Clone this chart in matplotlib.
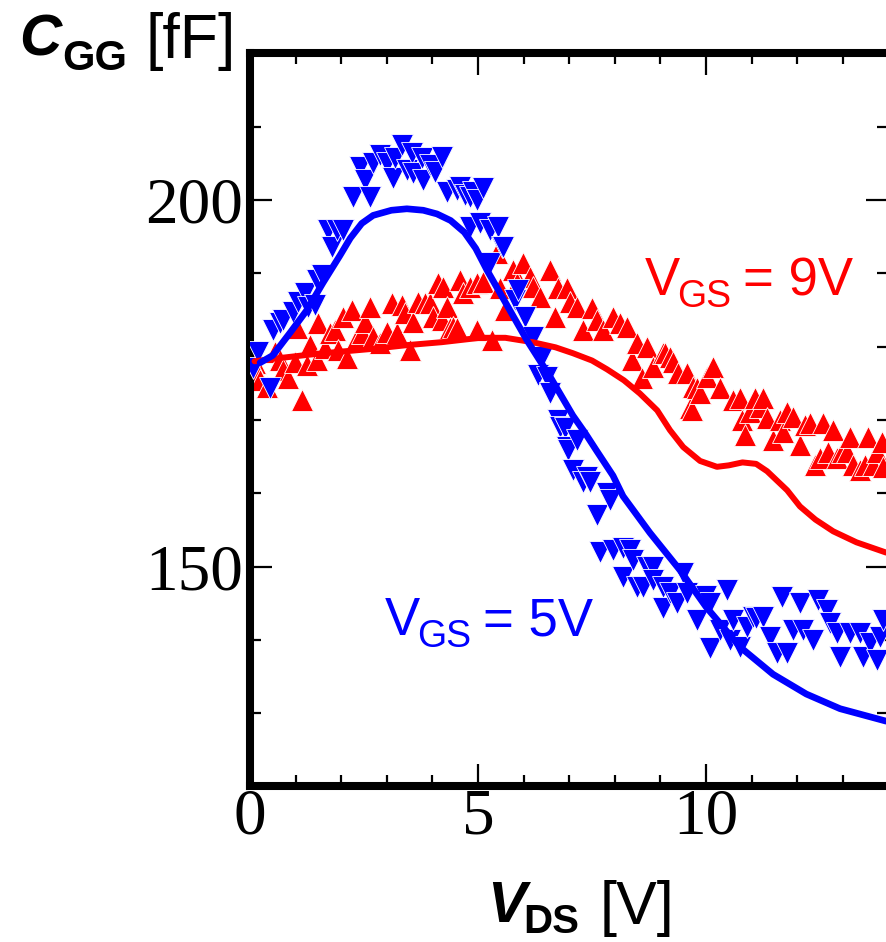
import matplotlib
matplotlib.use("Agg")
import matplotlib.pyplot as plt
from matplotlib.ticker import MultipleLocator, FixedLocator

# ---------------- data ----------------
# measured, V_GS = 5 V (down triangles, blue)
blue_vds = [0.07, 0.18, 0.44, 0.51, 0.66, 0.72, 0.94, 1.05, 1.2, 1.27, 1.43, 1.47, 1.58,
            1.71, 1.8, 1.91, 2.04, 2.26, 2.41, 2.52, 2.63, 2.7, 2.85, 3.0, 3.14, 3.18, 3.33,
            3.44, 3.55, 3.57, 3.77, 3.79, 3.95, 4.06, 4.21, 4.32, 4.54, 4.6, 4.71, 4.82,
            4.82, 4.89, 4.98, 5.04, 5.1, 5.26, 5.26, 5.44, 5.52, 5.55, 5.81, 5.88, 6.03,
            6.2, 6.32, 6.4, 6.51, 6.58, 6.75, 6.8, 6.91, 6.95, 6.97, 7.08, 7.17, 7.3, 7.39,
            7.46, 7.61, 7.68, 7.83, 7.89, 7.96, 8.18, 8.18, 8.33, 8.4, 8.49, 8.62, 8.71,
            8.84, 8.84, 9.06, 9.06, 9.21, 9.36, 9.5, 9.58, 9.8, 10.0, 10.09, 10.09, 10.31,
            10.46, 10.53, 10.59, 10.75, 10.9, 11.03, 11.1, 11.25, 11.4, 11.56, 11.67, 11.78,
            11.91, 12.06, 12.13, 12.35, 12.46, 12.65, 12.72, 12.87, 12.94, 13.16, 13.38,
            13.44, 13.6, 13.75, 13.82, 13.88]
blue_cgg = [177.1, 179.3, 174.4, 182.3, 183.2, 183.6, 184.7, 186.1, 187.3, 185.4, 185.7, 189.1,
            189.8, 195.9, 193.6, 195.9, 195.9, 200.4, 204.5, 202.7, 200.4, 205.0, 206.1, 205.0,
            203.0, 205.7, 207.5, 204.1, 206.4, 203.7, 205.7, 202.7, 204.8, 203.8, 205.9, 201.1,
            201.4, 201.8, 200.7, 200.4, 196.3, 201.1, 200.0, 196.9, 201.6, 195.9, 191.4, 196.3,
            193.6, 193.6, 186.4, 187.7, 184.0, 181.3, 176.1, 178.6, 175.9, 173.7, 170.0, 169.0,
            168.9, 166.3, 165.9, 163.2, 167.3, 161.5, 162.2, 161.5, 157.0, 152.0, 160.0, 159.1,
            152.3, 152.5, 148.6, 152.3, 150.9, 147.2, 147.2, 150.0, 150.0, 148.2, 147.2, 144.3,
            146.4, 145.0, 149.1, 146.4, 142.7, 146.0, 145.0, 138.9, 141.3, 146.8, 140.0, 142.7,
            139.0, 141.7, 143.1, 143.0, 143.1, 140.4, 138.2, 145.8, 138.2, 141.3, 145.0, 141.3,
            140.0, 145.4, 144.1, 142.3, 140.9, 137.7, 140.9, 140.9, 137.7, 139.6, 137.2, 140.4,
            142.7]

# measured, V_GS = 9 V (up triangles, red)
red_vds = [0.11, 0.15, 0.22, 0.37, 0.55, 0.66, 0.72, 0.83, 0.99, 1.03, 1.14, 1.25, 1.32, 1.47,
           1.49, 1.64, 1.75, 1.86, 1.93, 2.04, 2.13, 2.24, 2.35, 2.46, 2.52, 2.63, 2.7, 2.85,
           3.0, 3.11, 3.22, 3.33, 3.4, 3.51, 3.57, 3.68, 3.84, 3.95, 4.01, 4.12, 4.21, 4.23,
           4.32, 4.39, 4.45, 4.54, 4.6, 4.67, 4.82, 4.98, 4.98, 5.11, 5.31, 5.42, 5.48, 5.59,
           5.77, 5.86, 5.99, 6.14, 6.21, 6.36, 6.58, 6.69, 6.75, 6.95, 7.02, 7.17, 7.3, 7.5,
           7.61, 7.74, 7.96, 8.11, 8.27, 8.38, 8.49, 8.6, 8.71, 8.84, 9.06, 9.1, 9.21, 9.28,
           9.39, 9.58, 9.65, 9.69, 9.71, 9.8, 9.87, 10.02, 10.15, 10.31, 10.59, 10.75, 10.79,
           10.86, 10.96, 11.07, 11.18, 11.25, 11.34, 11.47, 11.62, 11.69, 11.78, 11.91, 12.06,
           12.17, 12.28, 12.39, 12.5, 12.57, 12.68, 12.79, 12.87, 12.98, 13.1, 13.16, 13.22,
           13.38, 13.49, 13.55, 13.66, 13.75, 13.86, 13.88]
red_cgg = [177.8, 176.4, 175.4, 174.5, 179.3, 178.2, 176.8, 175.7, 177.9, 182.5, 172.7, 177.5,
           180.2, 178.2, 183.2, 179.8, 181.9, 182.3, 179.5, 184.0, 178.4, 185.0, 181.2, 181.9,
           183.4, 185.4, 181.3, 180.5, 182.0, 185.9, 181.9, 185.7, 184.6, 179.5, 183.4, 186.1,
           185.9, 185.9, 184.0, 188.7, 183.6, 188.1, 185.4, 182.5, 182.7, 182.5, 189.1, 187.3,
           188.1, 182.3, 188.7, 188.8, 180.9, 192.8, 188.0, 185.0, 190.5, 188.7, 191.4, 189.5,
           188.1, 186.8, 190.5, 184.0, 188.0, 188.0, 186.1, 185.4, 182.3, 185.3, 183.6, 182.3,
           184.0, 183.2, 182.7, 178.2, 180.5, 175.7, 180.0, 177.2, 179.1, 179.1, 178.6, 177.9,
           176.4, 176.4, 171.6, 171.4, 174.5, 174.4, 173.7, 175.9, 177.2, 174.4, 172.7, 173.0,
           170.0, 167.9, 171.1, 173.0, 171.8, 173.0, 170.3, 167.3, 170.0, 168.4, 171.1, 170.4,
           166.6, 169.3, 169.6, 163.8, 164.8, 169.6, 165.6, 168.6, 164.8, 165.6, 165.6, 167.7,
           163.8, 163.2, 163.8, 167.7, 163.8, 165.6, 167.0, 163.6]

# simulated, V_GS = 5 V
blue_model_vds = [0.22, 0.5, 0.88, 1.25, 1.6, 1.97, 2.2, 2.45, 2.7, 3.1, 3.44, 3.8, 4.1, 4.4,
                  4.7, 4.95, 5.2, 5.64, 6.07, 6.58, 7.08, 7.35, 7.6, 7.96, 8.18, 8.77, 9.43,
                  10.0, 10.75, 11.47, 12.2, 12.94, 13.95]
blue_model_cgg = [177.8, 178.8, 181.9, 185.0, 188.7, 192.4, 194.8, 196.8, 197.9, 198.6, 198.8,
                  198.6, 198.1, 197.2, 195.6, 193.4, 190.4, 185.6, 180.9, 175.9, 170.6, 168.2,
                  165.8, 162.4, 159.6, 154.6, 149.5, 144.5, 139.0, 135.3, 132.6, 130.6, 128.9]

# simulated, V_GS = 9 V
red_model_vds = [0.1, 0.6, 1.3, 1.97, 2.7, 3.44, 4.2, 5.04, 5.6, 6.2, 6.7, 7.08, 7.5, 7.83,
                 8.2, 8.55, 8.93, 9.21, 9.5, 9.87, 10.24, 10.5, 10.8, 11.1, 11.34, 11.78,
                 12.06, 12.4, 12.79, 13.3, 13.95]
red_model_cgg = [178.0, 178.4, 178.9, 179.3, 179.7, 180.2, 180.6, 181.2, 181.2, 180.6, 179.9,
                 179.1, 178.1, 176.9, 175.4, 173.6, 171.3, 168.6, 166.3, 164.4, 163.6, 163.8,
                 164.2, 164.0, 163.0, 160.4, 158.2, 156.4, 154.8, 153.3, 151.9]

x_major = [0, 5, 10]
y_major = [150, 200]

BLUE = "#0000ff"
RED = "#ff0000"

# ---------------- figure ----------------
W, H = 886, 942
fig = plt.figure(figsize=(W / 100, H / 100), dpi=100)
ax = fig.add_axes([250 / W, 1 - 786.4 / H, 638.4 / W, (786.4 - 53.4) / H])

ax.plot(red_vds, red_cgg, linestyle="none", marker="^", ms=16, color=RED,
        mec="white", mew=0.6, zorder=2)
ax.plot(blue_vds, blue_cgg, linestyle="none", marker="v", ms=16, color=BLUE,
        mec="white", mew=0.6, zorder=3)
ax.plot(red_model_vds, red_model_cgg, color=RED, lw=4.3, zorder=4,
        solid_capstyle="round", solid_joinstyle="round")
ax.plot(blue_model_vds, blue_model_cgg, color=BLUE, lw=4.8, zorder=5,
        solid_capstyle="round", solid_joinstyle="round")

ax.set_xlim(0, 14)
ax.set_ylim(120, 220)

for s in ax.spines.values():
    s.set_linewidth(5.8)
ax.xaxis.set_major_locator(FixedLocator(x_major))
ax.xaxis.set_minor_locator(MultipleLocator(1))
ax.yaxis.set_major_locator(FixedLocator(y_major))
ax.yaxis.set_minor_locator(MultipleLocator(10))
ax.tick_params(which="both", direction="in", top=True, right=True, width=1.6, color="black")
ax.tick_params(which="major", length=16)
ax.tick_params(which="minor", length=8)
ax.tick_params(axis="x", which="major", pad=1)
ax.tick_params(axis="y", which="major", pad=5)
for lab in ax.get_xticklabels() + ax.get_yticklabels():
    lab.set_fontfamily("Liberation Serif")
    lab.set_fontsize(47)

def ftext(px, py, s, **kw):
    fig.text(px / W, 1 - py / H, s, ha="left", va="baseline", **kw)

SANS = "Liberation Sans"
# y-axis label
ftext(19, 55, "C", family=SANS, fontsize=42, fontweight="bold", fontstyle="italic")
ftext(62, 70, "GG", family=SANS, fontsize=30, fontweight="bold")
ftext(146, 58, "[fF]", family=SANS, fontsize=45)
# x-axis label
ftext(487, 922, "V", family=SANS, fontsize=42, fontweight="bold", fontstyle="italic")
ftext(523, 933, "DS", family=SANS, fontsize=29, fontweight="bold")
ftext(600, 924, "[V]", family=SANS, fontsize=44)
# annotations
ftext(645, 295, "V", family=SANS, fontsize=38, color=RED)
ftext(677, 307, "GS", family=SANS, fontsize=27, color=RED)
ftext(743, 295, "= 9V", family=SANS, fontsize=38, color=RED)
ftext(385, 635, "V", family=SANS, fontsize=38, color=BLUE)
ftext(417, 647, "GS", family=SANS, fontsize=27, color=BLUE)
ftext(483, 635, "= 5V", family=SANS, fontsize=38, color=BLUE)

fig.savefig("out.png", dpi=100)
